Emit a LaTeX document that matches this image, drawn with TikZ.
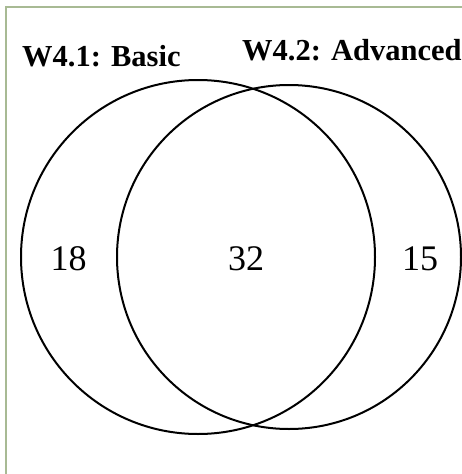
\documentclass[tikz,border=0pt]{standalone}
\usepackage{fontspec}
\setmainfont{Liberation Serif}
\definecolor{framegreen}{RGB}{168,186,148}
\begin{document}
\begin{tikzpicture}[x=1pt,y=-1pt,
  setc/.style={circle,draw=black,line width=2pt,inner sep=0pt},
  setlabel/.style={anchor=base west,inner sep=0pt,font=\fontsize{30.5}{31}\selectfont\bfseries},
  count/.style={anchor=base,inner sep=0pt,font=\fontsize{36}{36}\selectfont}]
\useasboundingbox (0,0) rectangle (462,474);
\draw[framegreen,line width=1.6pt] (6,480) -- (6,7) -- (470,7);
\node[setc,minimum size=354pt] (basic) at (198,257) {};
\node[setc,minimum size=344pt] (adv) at (289,257) {};
\node[setlabel] (lb) at (22,66) {W4.1: Basic};
\node[setlabel] (la) at (242,60) {W4.2: Advanced};
\node[count] (n18) at (68.5,270) {18};
\node[count] (n32) at (246,270) {32};
\node[count] (n15) at (420,270) {15};
\end{tikzpicture}
\end{document}
